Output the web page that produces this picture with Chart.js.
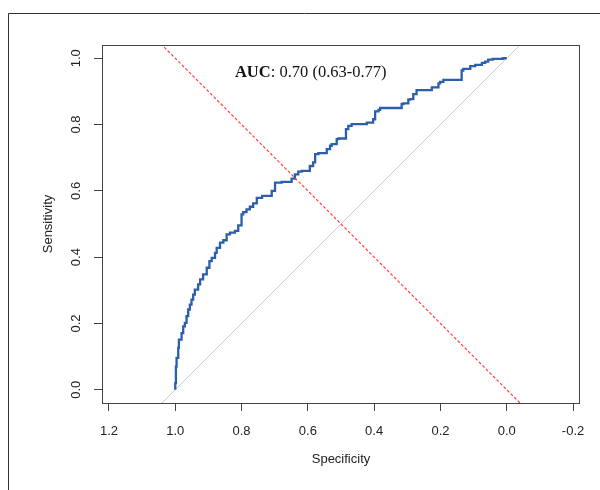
<!DOCTYPE html>
<html>
<head>
<meta charset="utf-8">
<title>ROC curve</title>
<script src="https://cdn.jsdelivr.net/npm/chart.js@4/dist/chart.umd.min.js"></script>
<style>
  html, body { margin: 0; padding: 0; background: #fff; }
  canvas { display: block; }
</style>
</head>
<body>
<canvas id="chart-roc" width="600" height="490"></canvas>
<script>
// ─── Datos ───
const specificity = [
  1.000, 0.998, 0.996, 0.991, 0.989, 0.981, 0.976, 0.971, 0.966, 0.961,
  0.956, 0.951, 0.946, 0.941, 0.931, 0.925, 0.916, 0.905, 0.897, 0.890,
  0.880, 0.875, 0.865, 0.855, 0.845, 0.835, 0.820, 0.810, 0.800, 0.795,
  0.785, 0.775, 0.765, 0.754, 0.738, 0.709, 0.699, 0.679, 0.649, 0.639,
  0.629, 0.619, 0.594, 0.584, 0.578, 0.568, 0.543, 0.533, 0.528, 0.513,
  0.508, 0.485, 0.478, 0.468, 0.422, 0.403, 0.397, 0.387, 0.382, 0.367,
  0.317, 0.312, 0.297, 0.292, 0.282, 0.272, 0.262, 0.226, 0.223, 0.206,
  0.201, 0.191, 0.183, 0.136, 0.131, 0.110, 0.095, 0.075, 0.065, 0.056,
  0.042, 0.012, 0.000
];
const sensitivity = [
  0.000, 0.020, 0.070, 0.096, 0.126, 0.151, 0.171, 0.191, 0.202, 0.222,
  0.242, 0.257, 0.272, 0.287, 0.302, 0.318, 0.333, 0.348, 0.368, 0.388,
  0.398, 0.413, 0.428, 0.444, 0.451, 0.469, 0.474, 0.479, 0.496, 0.529,
  0.536, 0.544, 0.552, 0.562, 0.579, 0.585, 0.600, 0.625, 0.627, 0.637,
  0.650, 0.658, 0.660, 0.675, 0.686, 0.711, 0.714, 0.726, 0.736, 0.741,
  0.756, 0.758, 0.786, 0.796, 0.801, 0.806, 0.816, 0.840, 0.844, 0.850,
  0.850, 0.862, 0.864, 0.875, 0.877, 0.892, 0.904, 0.904, 0.912, 0.912,
  0.924, 0.929, 0.935, 0.935, 0.963, 0.968, 0.976, 0.980, 0.986, 0.990,
  0.996, 0.998, 1.000
];

// línea de azar (sens = 1 - spec) y línea sens = spec
const chanceSpec = [1.3, -0.3];
const chanceSens = [-0.3, 1.3];
const equalSpec = [1.3, -0.3];
const equalSens = [1.3, -0.3];

const xTickValues = [1.2, 1.0, 0.8, 0.6, 0.4, 0.2, 0.0, -0.2];
const yTickValues = [0.0, 0.2, 0.4, 0.6, 0.8, 1.0];

const aucBold = 'AUC';
const aucRest = ': 0.70 (0.63-0.77)';
const aucAt = { spec: 0.82, sens: 0.944 };

function toPoints(xs, ys) {
  return xs.map((x, i) => ({ x: x, y: ys[i] }));
}

// ─── Marco exterior + caja del gráfico + texto AUC ───
const frameAndLabels = {
  id: 'frameAndLabels',
  beforeDraw(chart) {
    const ctx = chart.ctx;
    ctx.save();
    ctx.strokeStyle = '#333';
    ctx.lineWidth = 1;
    ctx.beginPath();
    ctx.moveTo(8.5, 490);
    ctx.lineTo(8.5, 13.5);
    ctx.lineTo(600, 13.5);
    ctx.stroke();
    ctx.restore();
  },
  afterDatasetsDraw(chart) {
    const { ctx, chartArea, scales } = chart;
    ctx.save();
    ctx.strokeStyle = '#444';
    ctx.lineWidth = 1;
    ctx.strokeRect(chartArea.left + 0.5, chartArea.top + 0.5,
      chartArea.right - chartArea.left - 1, chartArea.bottom - chartArea.top);

    const px = scales.x.getPixelForValue(aucAt.spec);
    const py = scales.y.getPixelForValue(aucAt.sens);
    ctx.fillStyle = '#111';
    ctx.textAlign = 'left';
    ctx.textBaseline = 'alphabetic';
    ctx.font = 'bold 16.5px "Liberation Serif"';
    ctx.fillText(aucBold, px, py);
    const w = ctx.measureText(aucBold).width;
    ctx.font = '16.5px "Liberation Serif"';
    ctx.fillText(aucRest, px + w, py);
    ctx.restore();
  }
};

Chart.defaults.font.family = '"Liberation Sans", Arial, sans-serif';
Chart.defaults.font.size = 13;
Chart.defaults.color = '#222';

const tickFont = { family: '"Liberation Sans"', size: 13 };

new Chart(document.getElementById('chart-roc'), {
  type: 'line',
  data: {
    datasets: [
      {
        label: 'sens = spec',
        data: toPoints(equalSpec, equalSens),
        borderColor: '#ff3b3b',
        borderWidth: 1.15,
        borderDash: [3, 2],
        pointRadius: 0,
        fill: false,
      },
      {
        label: 'ROC',
        data: toPoints(specificity, sensitivity),
        stepped: 'after',
        borderColor: '#2b5fae',
        borderWidth: 2.3,
        pointRadius: 0,
        fill: false,
      },
      {
        label: 'Azar',
        data: toPoints(chanceSpec, chanceSens),
        borderColor: '#cacaca',
        borderWidth: 1,
        pointRadius: 0,
        fill: false,
      }
    ]
  },
  options: {
    responsive: false,
    animation: false,
    devicePixelRatio: 1,
    layout: { padding: { top: 45, right: 20, left: 0, bottom: 0 } },
    plugins: {
      legend: { display: false },
      tooltip: { enabled: false },
    },
    scales: {
      x: {
        type: 'linear',
        position: 'bottom',
        reverse: true,
        min: -0.221,
        max: 1.221,
        afterBuildTicks: (s) => { s.ticks = xTickValues.map(v => ({ value: v })); },
        afterFit: (s) => { s.height = 87; },
        border: { display: false },
        grid: { drawOnChartArea: false, tickLength: 8, tickColor: '#444' },
        ticks: {
          font: tickFont,
          color: '#222',
          padding: 13,
          maxRotation: 0,
          autoSkip: false,
          callback: (v) => Number(v).toFixed(1),
        },
        title: {
          display: true,
          text: 'Specificity',
          font: tickFont,
          color: '#222',
          padding: { top: 0, bottom: 23 },
        }
      },
      y: {
        type: 'linear',
        position: 'left',
        min: -0.04,
        max: 1.04,
        afterBuildTicks: (s) => { s.ticks = yTickValues.map(v => ({ value: v })); },
        afterFit: (s) => { s.width = 102; },
        border: { display: false },
        grid: { drawOnChartArea: false, tickLength: 8, tickColor: '#444' },
        ticks: {
          font: tickFont,
          color: '#222',
          padding: 9,
          minRotation: 90,
          maxRotation: 90,
          crossAlign: 'center',
          autoSkip: false,
          callback: (v) => Number(v).toFixed(1),
        },
        title: {
          display: true,
          text: 'Sensitivity',
          font: tickFont,
          color: '#222',
          padding: { top: 41, bottom: 0 },
        }
      }
    }
  },
  plugins: [frameAndLabels]
});
</script>
</body>
</html>
